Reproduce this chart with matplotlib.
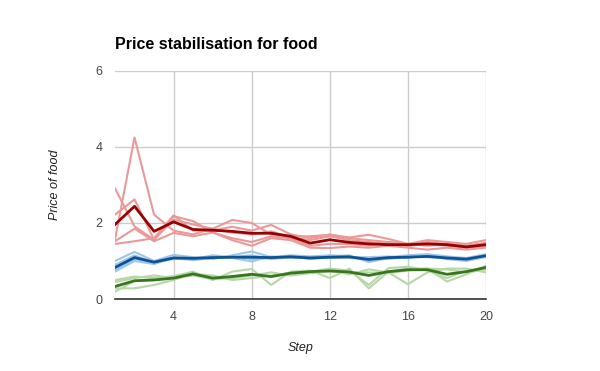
import matplotlib
matplotlib.use("Agg")
import matplotlib.pyplot as plt

steps = list(range(1, 21))

red_runs = [
    [1.56, 4.25, 2.22, 1.80, 1.70, 1.85, 1.75, 1.70, 1.78, 1.62, 1.55, 1.65, 1.55, 1.50, 1.45, 1.40, 1.50, 1.45, 1.40, 1.48],
    [2.91, 1.91, 1.56, 2.18, 2.05, 1.75, 1.60, 1.50, 1.65, 1.60, 1.40, 1.45, 1.45, 1.40, 1.50, 1.40, 1.45, 1.40, 1.35, 1.40],
    [2.22, 2.62, 1.56, 2.09, 1.96, 1.85, 2.08, 2.00, 1.70, 1.65, 1.65, 1.69, 1.62, 1.69, 1.58, 1.45, 1.55, 1.50, 1.45, 1.55],
    [1.45, 1.52, 1.60, 2.20, 1.80, 1.80, 1.90, 1.80, 1.95, 1.70, 1.60, 1.70, 1.60, 1.55, 1.50, 1.45, 1.40, 1.45, 1.40, 1.45],
    [1.52, 1.85, 1.52, 1.74, 1.65, 1.75, 1.55, 1.40, 1.60, 1.55, 1.35, 1.34, 1.38, 1.35, 1.40, 1.35, 1.30, 1.35, 1.30, 1.35],
]
red_mean = [1.96, 2.44, 1.78, 2.03, 1.83, 1.81, 1.78, 1.73, 1.73, 1.65, 1.47, 1.56, 1.49, 1.45, 1.43, 1.43, 1.45, 1.43, 1.37, 1.43]

blue_runs = [
    [1.00, 1.24, 1.00, 1.16, 1.10, 1.05, 1.15, 1.25, 1.10, 1.15, 1.12, 1.15, 1.12, 1.03, 1.10, 1.15, 1.18, 1.12, 1.08, 1.18],
    [0.90, 1.15, 0.95, 1.10, 1.05, 1.15, 1.10, 1.15, 1.05, 1.10, 1.08, 1.12, 1.15, 0.97, 1.08, 1.10, 1.12, 1.10, 1.05, 1.15],
    [0.77, 1.05, 0.97, 1.05, 1.08, 1.10, 1.08, 0.99, 1.12, 1.08, 1.10, 1.08, 1.10, 1.10, 1.12, 1.08, 1.15, 1.05, 1.00, 1.12],
    [0.72, 1.00, 0.92, 1.08, 1.02, 1.08, 1.12, 1.05, 1.08, 1.12, 1.05, 1.10, 1.08, 1.05, 1.05, 1.12, 1.10, 1.08, 1.02, 1.10],
]
blue_mean = [0.83, 1.09, 0.97, 1.08, 1.07, 1.09, 1.10, 1.10, 1.09, 1.11, 1.08, 1.10, 1.11, 1.04, 1.09, 1.10, 1.12, 1.08, 1.05, 1.14]

green_runs = [
    [0.50, 0.59, 0.55, 0.60, 0.72, 0.50, 0.72, 0.79, 0.37, 0.72, 0.75, 0.55, 0.80, 0.28, 0.72, 0.80, 0.80, 0.46, 0.65, 0.88],
    [0.45, 0.55, 0.62, 0.55, 0.68, 0.55, 0.60, 0.65, 0.60, 0.70, 0.72, 0.80, 0.75, 0.37, 0.81, 0.85, 0.75, 0.55, 0.75, 0.80],
    [0.28, 0.28, 0.37, 0.50, 0.66, 0.62, 0.50, 0.55, 0.62, 0.68, 0.70, 0.75, 0.65, 0.78, 0.70, 0.39, 0.70, 0.80, 0.80, 0.70],
    [0.19, 0.48, 0.50, 0.55, 0.62, 0.52, 0.55, 0.62, 0.70, 0.62, 0.68, 0.72, 0.70, 0.70, 0.68, 0.75, 0.80, 0.78, 0.70, 0.78],
]
green_mean = [0.33, 0.48, 0.50, 0.55, 0.66, 0.55, 0.59, 0.65, 0.59, 0.68, 0.72, 0.74, 0.71, 0.62, 0.72, 0.77, 0.77, 0.65, 0.72, 0.83]

x_ticks = [4, 8, 12, 16, 20]
y_ticks = [0, 2, 4, 6]

plt.rcParams['font.family'] = ['Liberation Sans', 'DejaVu Sans']

fig = plt.figure(figsize=(6.0, 3.71), dpi=100)
ax = fig.add_axes([115/600, 1 - 299/371, (486-115)/600, (299-71)/371])

groups = [
    (red_runs, red_mean, '#ea9999', '#990000'),
    (blue_runs, blue_mean, '#9fc5e8', '#0b5394'),
    (green_runs, green_mean, '#b6d7a8', '#38761d'),
]
for runs, mean, light, dark in groups:
    for r in runs:
        ax.plot(steps, r, color=light, lw=1.5, zorder=2)
for runs, mean, light, dark in groups:
    ax.plot(steps, mean, color=dark, lw=2.0, zorder=3)

ax.set_xlim(1, 20)
ax.set_ylim(0, 6)
ax.set_xticks(x_ticks)
ax.set_yticks(y_ticks)
ax.grid(True, color='#cccccc', lw=1)
ax.set_axisbelow(True)
for s in ['top', 'right', 'left']:
    ax.spines[s].set_visible(False)
ax.spines['bottom'].set_color('#333333')
ax.spines['bottom'].set_linewidth(1.2)
ax.tick_params(length=0, labelsize=9, colors='#444444', pad=9)
ax.tick_params(axis='y', pad=9)

ax.set_title('Price stabilisation for food', loc='left', fontsize=11.5, fontweight='bold', pad=16, color='#000000')
ax.set_xlabel('Step', fontsize=9, style='italic', color='#222222', labelpad=13)
ax.set_ylabel('Price of food', fontsize=9, style='italic', color='#222222', labelpad=25)

fig.savefig('out.png', dpi=100)
